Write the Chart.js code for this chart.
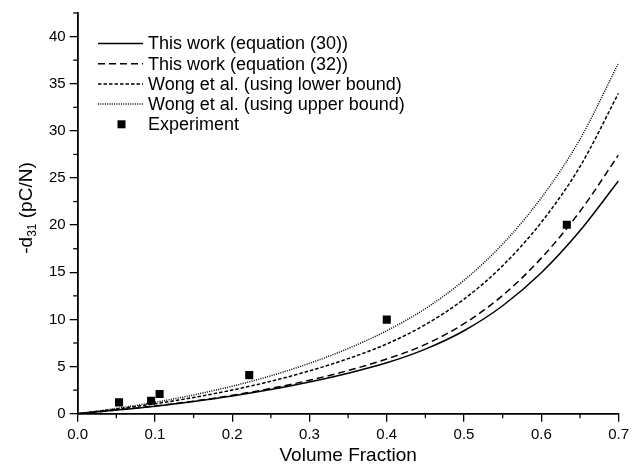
<!DOCTYPE html>
<html>
<head>
<meta charset="utf-8">
<script src="https://cdn.jsdelivr.net/npm/chart.js@4.4.0/dist/chart.umd.min.js"></script>
<style>
  body { margin: 0; background: #fff; }
  #wrap { width: 633px; height: 473px; }
</style>
</head>
<body>
<div id="wrap"><canvas id="myChart" width="633" height="473"></canvas></div>
<script>
// Volume fraction samples for the model curves
const fractions = [0, 0.05, 0.1, 0.15, 0.2, 0.25, 0.3, 0.35, 0.4, 0.45, 0.5, 0.55, 0.6, 0.65, 0.7];
const eq30 = [0, 0.38, 0.8, 1.3, 1.88, 2.56, 3.36, 4.3, 5.4, 6.85, 8.8, 11.45, 14.95, 19.4, 24.7];
const eq32 = [0, 0.38, 0.81, 1.33, 1.95, 2.68, 3.55, 4.58, 5.8, 7.35, 9.55, 12.55, 16.5, 21.45, 27.45];
const wongLower = [0, 0.49, 1.05, 1.72, 2.51, 3.44, 4.54, 5.84, 7.4, 9.45, 12.15, 15.7, 20.3, 26.2, 34.0];
const wongUpper = [0, 0.56, 1.21, 1.99, 2.92, 4.02, 5.34, 6.91, 8.8, 11.15, 14.15, 18.0, 22.9, 29.1, 37.2];

// Experiment
const expX = [0.0535, 0.095, 0.106, 0.222, 0.40, 0.633];
const expY = [1.2, 1.37, 2.08, 4.09, 9.98, 20.05];

// ticks
const xTicks = [0, 0.1, 0.2, 0.3, 0.4, 0.5, 0.6, 0.7];
const xMinor = [0.05, 0.15, 0.25, 0.35, 0.45, 0.55, 0.65];
const yTicks = [0, 5, 10, 15, 20, 25, 30, 35, 40];
const yMinor = [2.5, 7.5, 12.5, 17.5, 22.5, 27.5, 32.5, 37.5, 42.5];

const labels = [
    'This work (equation (30))',
    'This work (equation (32))',
    'Wong et al. (using lower bound)',
    'Wong et al. (using upper bound)',
    'Experiment'
];

function pairs(xs, ys) {
    return xs.map((x, i) => ({ x: x, y: ys[i] }));
}

function curve(label, vals, dash) {
    return {
        label: label,
        data: pairs(fractions, vals),
        borderColor: '#000',
        borderWidth: 1.5,
        borderDash: dash,
        pointRadius: 0,
        fill: false,
        cubicInterpolationMode: 'monotone'
    };
}

const FONT = '"Liberation Sans", Arial, sans-serif';

// titles, minor ticks and legend
const extras = {
    id: 'extras',
    afterDraw(chart) {
        const ctx = chart.ctx;
        const xs = chart.scales.x, ys = chart.scales.y;
        ctx.save();
        ctx.strokeStyle = '#000';
        ctx.lineWidth = 1.3;
        xMinor.forEach(v => {
            const px = xs.getPixelForValue(v);
            ctx.beginPath();
            ctx.moveTo(px, ys.bottom);
            ctx.lineTo(px, ys.bottom + 4.5);
            ctx.stroke();
        });
        yMinor.forEach(v => {
            const py = ys.getPixelForValue(v);
            ctx.beginPath();
            ctx.moveTo(xs.left, py);
            ctx.lineTo(xs.left - 4.5, py);
            ctx.stroke();
        });

        // x title
        ctx.fillStyle = '#000';
        ctx.font = '19px ' + FONT;
        ctx.textAlign = 'center';
        ctx.textBaseline = 'middle';
        ctx.fillText('Volume Fraction', (xs.left + xs.right) / 2, 456);

        // y title with subscript
        ctx.translate(26, 208);
        ctx.rotate(-Math.PI / 2);
        ctx.textBaseline = 'alphabetic';
        ctx.textAlign = 'left';
        const big = '19px ' + FONT, small = '12px ' + FONT;
        ctx.font = big;
        const w1 = ctx.measureText('-d').width;
        const w3 = ctx.measureText(' (pC/N)').width;
        ctx.font = small;
        const w2 = ctx.measureText('31').width;
        let x0 = -(w1 + w2 + w3) / 2;
        const base = 6;
        ctx.font = big;
        ctx.fillText('-d', x0, base);
        ctx.font = small;
        ctx.fillText('31', x0 + w1, base + 4);
        ctx.font = big;
        ctx.fillText(' (pC/N)', x0 + w1 + w2, base);
        ctx.restore();

        // legend
        ctx.save();
        ctx.font = '18px ' + FONT;
        ctx.textBaseline = 'middle';
        ctx.textAlign = 'left';
        ctx.fillStyle = '#000';
        ctx.strokeStyle = '#000';
        chart.data.datasets.forEach((ds, i) => {
            const y = 43.5 + i * 20.2;
            if (ds.showLine === false) {
                ctx.fillRect(117.5, y - 4, 8, 8);
            } else {
                ctx.lineWidth = ds.borderWidth;
                ctx.setLineDash(ds.borderDash || []);
                ctx.beginPath();
                ctx.moveTo(98, y);
                ctx.lineTo(143, y);
                ctx.stroke();
                ctx.setLineDash([]);
            }
            ctx.fillText(ds.label, 148, y + 1);
        });
        ctx.restore();
    }
};

const ctx = document.getElementById('myChart').getContext('2d');
const chart = new Chart(ctx, {
    type: 'line',
    data: {
        datasets: [
            curve(labels[0], eq30, []),
            curve(labels[1], eq32, [7, 4]),
            curve(labels[2], wongLower, [3.5, 2]),
            curve(labels[3], wongUpper, [1, 1.3]),
            {
                label: labels[4],
                data: pairs(expX, expY),
                showLine: false,
                pointStyle: 'rect',
                pointRadius: 5.7,
                pointBackgroundColor: '#000',
                pointBorderColor: '#000',
                pointBorderWidth: 0,
                borderColor: '#000',
                backgroundColor: '#000'
            }
        ]
    },
    options: {
        responsive: false,
        animation: false,
        layout: { padding: { left: 0, right: 11, top: 12, bottom: 0 } },
        plugins: {
            legend: { display: false },
            tooltip: { enabled: false }
        },
        scales: {
            x: {
                type: 'linear',
                min: 0,
                max: 0.7,
                afterBuildTicks: s => { s.ticks = xTicks.map(v => ({ value: v })); },
                afterFit: s => { s.height = 59.3; },
                ticks: {
                    color: '#000',
                    font: { size: 15, family: FONT },
                    padding: 4,
                    maxRotation: 0,
                    callback: v => v.toFixed(1)
                },
                grid: {
                    drawOnChartArea: false,
                    drawTicks: true,
                    tickLength: 8,
                    color: '#000',
                    lineWidth: 1.3
                },
                border: { display: true, color: '#000', width: 1.8 }
            },
            y: {
                min: 0,
                max: 42.5,
                afterBuildTicks: s => { s.ticks = yTicks.map(v => ({ value: v })); },
                afterFit: s => { s.width = 77.7; },
                ticks: {
                    color: '#000',
                    font: { size: 15, family: FONT },
                    padding: 4
                },
                grid: {
                    drawOnChartArea: false,
                    drawTicks: true,
                    tickLength: 8,
                    color: '#000',
                    lineWidth: 1.3
                },
                border: { display: true, color: '#000', width: 1.8 }
            }
        }
    },
    plugins: [extras]
});
</script>
</body>
</html>
